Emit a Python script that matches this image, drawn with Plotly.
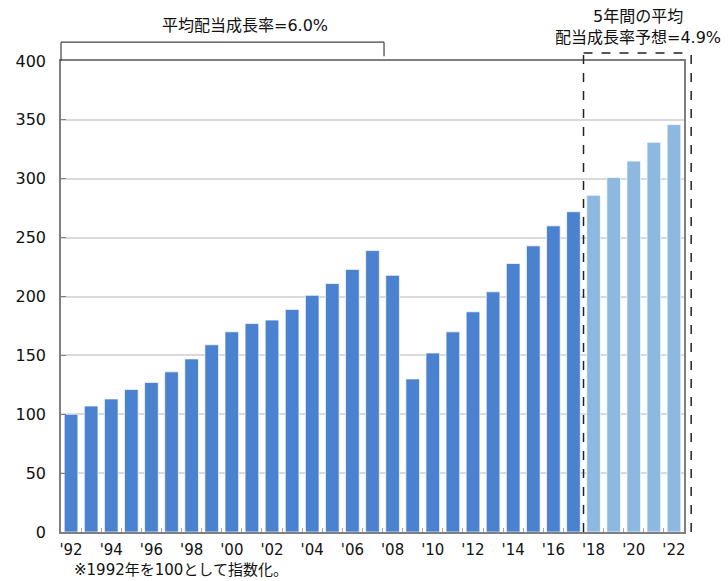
import plotly.graph_objects as go

years = list(range(1992, 2023))
values = [100, 107, 113, 121, 127, 136, 147, 159, 170, 177, 180, 189, 201, 211, 223, 239,
          218, 130, 152, 170, 187, 204, 228, 243, 260, 272, 286, 301, 315, 331, 346]
forecast_start = 2018
tick_years = list(range(1992, 2023, 2))
tick_labels = ["'" + str(y)[2:] for y in tick_years]

title_left = "平均配当成長率=6.0%"
title_right_1 = "5年間の平均"
title_right_2 = "配当成長率予想=4.9%"
note = "※1992年を100として指数化。"

DARK = "#4A82CF"
LIGHT = "#8DB9E1"
colors = [LIGHT if y >= forecast_start else DARK for y in years]
FONT = "DejaVu Sans, Noto Sans CJK JP"
TXT = "#111111"

fig = go.Figure(go.Bar(
    x=years, y=values,
    marker=dict(color=colors, line=dict(color="rgba(255,255,255,0.7)", width=1)),
    showlegend=False,
))

n = len(years)
x0 = years[0] - 0.5
def dom(xv):
    return (xv - x0) / n

fig.update_layout(
    width=728, height=581,
    margin=dict(l=61, r=44, t=61, b=49),
    plot_bgcolor="white", paper_bgcolor="white",
    bargap=0.32,
    font=dict(family=FONT, color=TXT),
    xaxis=dict(
        range=[x0, years[-1] + 0.5],
        tickvals=tick_years, ticktext=tick_labels,
        ticks="", showgrid=False,
        showline=True, linecolor="#7f7f7f", linewidth=1.5, mirror=True,
        tickfont=dict(size=15, family=FONT, color=TXT),
        ticklabelstandoff=3,
        minor=dict(tickvals=[y + 0.5 for y in years[:-1]], ticks="inside",
                   ticklen=4, tickcolor="#a6a6a6", showgrid=False),
    ),
    yaxis=dict(
        range=[0, 400], dtick=50,
        showgrid=True, gridcolor="#d9d9d9", gridwidth=1.5,
        ticks="inside", ticklen=5, tickcolor="#7f7f7f",
        showline=True, linecolor="#7f7f7f", linewidth=1.5, mirror=True,
        tickfont=dict(size=16, family=FONT, color=TXT),
        ticklabelstandoff=10,
        zeroline=False,
    ),
)

dash_line = dict(color="#222222", width=1.5, dash="dash")
fx0 = dom(forecast_start - 0.5)
shapes = [
    dict(type="line", xref="x domain", yref="y domain", x0=fx0, x1=fx0, y0=0, y1=1.017, line=dash_line),
    dict(type="line", xref="x domain", yref="y domain", x0=fx0, x1=1.0115, y0=1.017, y1=1.017, line=dash_line),
    dict(type="line", xref="x domain", yref="y domain", x0=1.0115, x1=1.0115, y0=0, y1=1.017, line=dash_line),
]
bl = dict(color="#404040", width=1.2)
bx1 = 0.5185
shapes += [
    dict(type="line", xref="x domain", yref="y domain", x0=0, x1=bx1, y0=1.040, y1=1.040, line=bl),
    dict(type="line", xref="x domain", yref="y domain", x0=0, x1=0, y0=1.0, y1=1.040, line=bl),
    dict(type="line", xref="x domain", yref="y domain", x0=bx1, x1=bx1, y0=1.010, y1=1.040, line=bl),
]
fig.update_layout(shapes=shapes)

ann_font = dict(size=16, family=FONT, color=TXT)
fig.add_annotation(text=title_left, xref="x domain", yref="y domain", x=0.295, y=1.076,
                   showarrow=False, font=ann_font, xanchor="center", yanchor="middle")
fig.add_annotation(text=title_right_1, xref="x domain", yref="y domain", x=0.926, y=1.094,
                   showarrow=False, font=ann_font, xanchor="center", yanchor="middle")
fig.add_annotation(text=title_right_2, xref="x domain", yref="y domain", x=0.926, y=1.050,
                   showarrow=False, font=ann_font, xanchor="center", yanchor="middle")
fig.add_annotation(text=note, xref="paper", yref="paper", x=0.0177, y=0,
                   showarrow=False, font=dict(size=15, family=FONT, color=TXT),
                   xanchor="left", yanchor="bottom", yshift=-49)

fig.write_html("out.html")
